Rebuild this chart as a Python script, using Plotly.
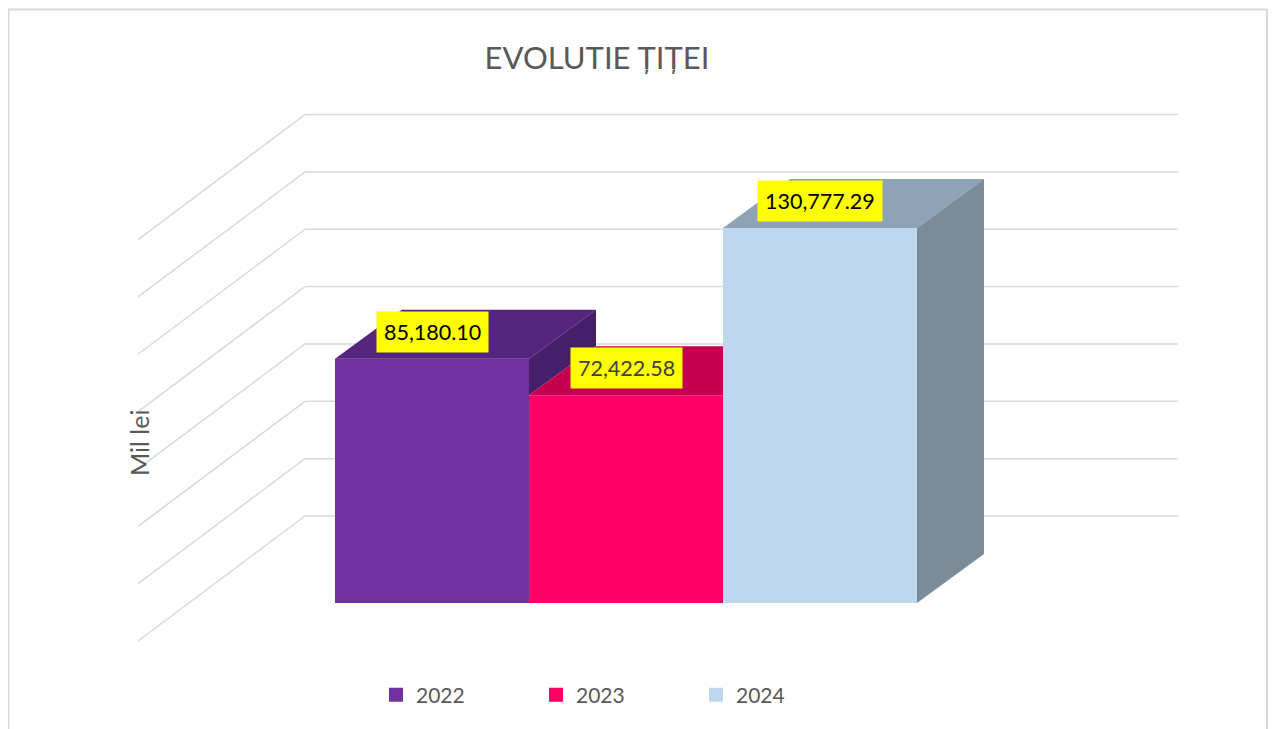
import plotly.graph_objects as go

# ---- data ----
categories = ["2022", "2023", "2024"]
values = [85180.10, 72422.58, 130777.29]
labels = ["85,180.10", "72,422.58", "130,777.29"]
grid_values = [0, 20000, 40000, 60000, 80000, 100000, 120000, 140000]

front_colors = ["#7030A0", "#FF0066", "#BDD7EE"]
top_colors = ["#55247D", "#C2004D", "#8EA3B6"]
side_colors = ["#471E69", "#A30041", "#7A8B9A"]
label_text_colors = ["#000000", "#404040", "#000000"]

# ---- layout geometry (pixel calibration of the oblique 3D look) ----
OFF = 8                      # page body margin
W, H = 1268, 721
PX_PER_CAT = 194.0
BAR_LEFT_PX = 335.0
ZERO_PY = 603.0
VAL_PER_PX = 348.74


def ux(px):
    return -0.5 + (px - BAR_LEFT_PX) / PX_PER_CAT


def vy(py):
    return (ZERO_PY - py) * VAL_PER_PX


def pxp(px):
    return (px - OFF) / W


def pyp(py):
    return 1 - (py - OFF) / H


DU = 67 / PX_PER_CAT          # depth offset (x units)
DV = 49 * VAL_PER_PX          # depth offset (value units)
WALL_BACK_LEFT = ux(305)
WALL_RIGHT = ux(1178)
WALL_FRONT_LEFT = ux(138)
WALL_BACK_DV = vy(516)
WALL_FRONT_DV = vy(641)

FONT = "Lato, 'Open Sans', sans-serif"
GRAY = "#595959"

fig = go.Figure()

xs = list(range(len(categories)))
half = 0.5

# front faces as bars
for i, (cat, v) in enumerate(zip(categories, values)):
    fig.add_trace(go.Bar(
        x=[xs[i]], y=[v], width=1.0, name=cat, legendgroup=cat, showlegend=False,
        marker=dict(color=front_colors[i], line=dict(width=0)),
        hovertemplate=f"{cat}: {labels[i]}<extra></extra>",
    ))

# top and side faces
for i, v in enumerate(values):
    x0 = xs[i] - half
    x1 = xs[i] + half
    nxt = values[i + 1] if i + 1 < len(values) else 0.0
    if nxt > v:
        tx = [x0, x1, x1, x0 + DU, x0]
    else:
        tx = [x0, x1, x1 + DU, x0 + DU, x0]
    ty = [v, v, v + DV, v + DV, v]
    fig.add_trace(go.Scatter(
        x=tx, y=ty, fill="toself", fillcolor=top_colors[i], mode="lines",
        line=dict(width=0, color=top_colors[i]), showlegend=False, hoverinfo="skip",
    ))
    if nxt < v:
        sx = [x1, x1, x1 + DU, x1 + DU, x1]
        sy = [nxt, v, v + DV, nxt + DV, nxt]
        fig.add_trace(go.Scatter(
            x=sx, y=sy, fill="toself", fillcolor=side_colors[i], mode="lines",
            line=dict(width=0, color=side_colors[i]), showlegend=False, hoverinfo="skip",
        ))

# legend entries (square swatches)
for i, cat in enumerate(categories):
    fig.add_trace(go.Scatter(
        x=[None], y=[None], mode="markers", name=cat, legendgroup=cat,
        marker=dict(symbol="square", size=14, color=front_colors[i]),
    ))

shapes = []
for g in grid_values:
    shapes.append(dict(type="line", xref="x", yref="y", layer="below",
                       x0=WALL_BACK_LEFT, y0=g + WALL_BACK_DV, x1=WALL_RIGHT, y1=g + WALL_BACK_DV,
                       line=dict(color="#D9D9D9", width=1.5)))
    shapes.append(dict(type="line", xref="x", yref="y", layer="below",
                       x0=WALL_FRONT_LEFT, y0=g + WALL_FRONT_DV, x1=WALL_BACK_LEFT, y1=g + WALL_BACK_DV,
                       line=dict(color="#D9D9D9", width=1.5)))
shapes.append(dict(type="rect", xref="paper", yref="paper", layer="below",
                   x0=pxp(8.5), x1=pxp(1267), y0=-0.05, y1=pyp(9.5),
                   line=dict(color="#D9D9D9", width=2)))

annotations = []
for i, v in enumerate(values):
    annotations.append(dict(
        x=xs[i], y=v, xref="x", yref="y", yshift=27, showarrow=False,
        text=labels[i], bgcolor="#FFFF00", borderpad=7,
        font=dict(family=FONT, size=21.5, color=label_text_colors[i]),
    ))
annotations.append(dict(
    x=pxp(122), y=pyp(443), xref="paper", yref="paper", showarrow=False,
    text="Mil lei", textangle=-90, font=dict(family=FONT, size=25, color=GRAY),
))

fig.update_layout(
    width=W, height=H,
    margin=dict(l=0, r=0, t=0, b=0),
    paper_bgcolor="white", plot_bgcolor="white",
    barmode="overlay",
    title=dict(text="EVOLUTIE ȚIȚEI", x=pxp(597), xanchor="center",
               y=pyp(58), yanchor="middle", yref="container",
               font=dict(family=FONT, size=31, color=GRAY)),
    xaxis=dict(range=[ux(OFF), ux(OFF + W)], visible=False, fixedrange=True),
    yaxis=dict(range=[vy(OFF + H), vy(OFF)], visible=False, fixedrange=True),
    showlegend=True,
    legend=dict(orientation="h", x=pxp(376), xanchor="left", y=pyp(695), yanchor="middle",
                font=dict(family=FONT, size=21, color=GRAY),
                entrywidth=115, entrywidthmode="pixels", bgcolor="rgba(0,0,0,0)"),
    shapes=shapes,
    annotations=annotations,
)

fig.write_html("out.html")
